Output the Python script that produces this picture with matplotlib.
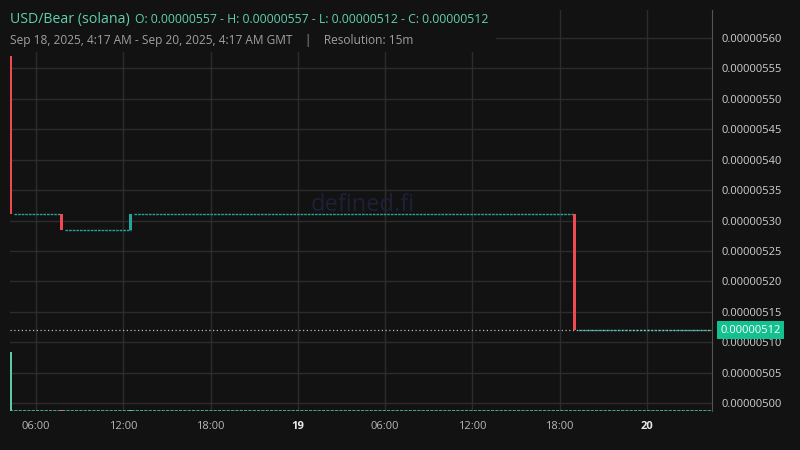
import pandas as pd
import matplotlib
matplotlib.use('Agg')
import matplotlib.pyplot as plt
import matplotlib.dates as mdates

plt.rcParams['font.family'] = ['Open Sans', 'DejaVu Sans']

# Bougies non plates (15m), le reste est plat au dernier prix
heures = ['2025-09-18 04:15', '2025-09-18 07:45', '2025-09-18 12:30', '2025-09-19 19:00']
ouvertures = [5.57e-6, 5.311e-6, 5.2845e-6, 5.311e-6]
clotures = [5.311e-6, 5.2845e-6, 5.311e-6, 5.12e-6]
volumes = [1850, 40, 45, 0]
couleurs_vol = ['#5ccaa2', '#f07070', '#5ccaa2', '#5ccaa2']
fin = '2025-09-20 04:15'
dernier_prix = 5.12e-6

yticks = [5.00e-6 + i * 0.05e-6 for i in range(13)]
xticks = ['2025-09-18 06:00', '2025-09-18 12:00', '2025-09-18 18:00', '2025-09-19 00:00',
          '2025-09-19 06:00', '2025-09-19 12:00', '2025-09-19 18:00', '2025-09-20 00:00']
xlabels = ['06:00', '12:00', '18:00', '19', '06:00', '12:00', '18:00', '20']

fond = '#121212'
vert = '#26a69a'
rouge = '#f04a50'

t = pd.to_datetime(heures)
t_fin = pd.Timestamp(fin)
quart = pd.Timedelta(minutes=15)

fig = plt.figure(figsize=(8, 4.5), dpi=100, facecolor=fond)
ax = fig.add_axes([0.0125, 0.0867, 0.8775, 0.8911])
ax.set_facecolor(fond)

xmin = mdates.date2num(pd.Timestamp('2025-09-18 04:13'))
xmax = mdates.date2num(pd.Timestamp('2025-09-20 04:28'))
ax.set_xlim(xmin, xmax)
ax.set_ylim(4.987e-6, 5.646e-6)

# grille
for v in yticks:
    ax.axhline(v, color='#2c2c2c', lw=1, zorder=0)
for d in xticks:
    ax.axvline(mdates.date2num(pd.Timestamp(d)), color='#2c2c2c', lw=1, zorder=0)

# segments plats (bougies sans échange)
for i in range(len(t)):
    debut = t[i] + quart
    stop = t[i + 1] if i + 1 < len(t) else t_fin + quart
    ax.hlines(clotures[i], mdates.date2num(debut), mdates.date2num(stop),
              color=vert, lw=1, linestyles=(0, (1.9, 0.7)), zorder=3)

# bougies
larg = 0.85 * quart / pd.Timedelta(days=1)
for i in range(len(t)):
    c = vert if clotures[i] >= ouvertures[i] else rouge
    x = mdates.date2num(t[i])
    bas = min(ouvertures[i], clotures[i])
    h = abs(clotures[i] - ouvertures[i])
    ax.bar(x, h, bottom=bas, width=larg, color=c, zorder=4)

# ligne du dernier prix
ax.axhline(dernier_prix, color='#bbbbbb', lw=0.9, ls=(0, (1, 2)), zorder=5)

# volumes
axv = ax.twinx()
axv.set_ylim(0, max(volumes) * 6.8)
axv.set_xlim(xmin, xmax)
axv.axis('off')
for i in range(len(t)):
    axv.bar(mdates.date2num(t[i]), volumes[i], width=larg, color=couleurs_vol[i], zorder=3)
axv.hlines(0, xmin, xmax, color='#4fbf9a', lw=1.2, linestyles=(0, (1.9, 0.7)), zorder=2)
axv.hlines(0, xmin, xmax, color='#cccccc', lw=0.8, linestyles=(0, (1, 2)), zorder=2)

# axes
ax.yaxis.tick_right()
ax.set_yticks(yticks)
ax.set_yticklabels(['%.8f' % v for v in yticks])
ax.tick_params(axis='y', length=0, pad=7, labelsize=8, labelcolor='#d0d0d0')
ax.set_xticks([mdates.date2num(pd.Timestamp(d)) for d in xticks])
ax.set_xticklabels(xlabels)
ax.tick_params(axis='x', length=0, pad=7, labelsize=8, labelcolor='#b8b8b8')
for lab in ax.get_xticklabels():
    if ':' not in lab.get_text():
        lab.set_fontweight('bold')
        lab.set_color('#e8e8e8')
for s in ['top', 'left', 'bottom']:
    ax.spines[s].set_visible(False)
ax.spines['right'].set_color('#555555')

# étiquette du dernier prix
ax.annotate('%.8f' % dernier_prix, xy=(1.0, dernier_prix), xycoords=('axes fraction', 'data'),
            xytext=(6, 0), textcoords='offset points', ha='left', va='center',
            fontsize=8, color='white', zorder=10, annotation_clip=False,
            bbox=dict(boxstyle='square,pad=0.3', fc='#14c08f', ec='none'))

# filigrane
fig.text(0.453, 0.545, 'defined.fi', fontsize=17, color='#1f1f38', ha='center', va='center')

# titre
fig.patches.append(plt.Rectangle((0.005, 0.885), 0.615, 0.11, transform=fig.transFigure,
                                 fc=fond, ec='none', zorder=5))
fig.text(0.0125, 0.957, 'USD/Bear (solana)', fontsize=10.2, color='#5fd0b0', va='center', zorder=6)
fig.text(0.169, 0.957, 'O: 0.00000557 - H: 0.00000557 - L: 0.00000512 - C: 0.00000512',
         fontsize=8.8, color='#5fd0b0', va='center', zorder=6)
fig.text(0.0125, 0.91, 'Sep 18, 2025, 4:17 AM - Sep 20, 2025, 4:17 AM GMT    |    Resolution: 15m',
         fontsize=8.6, color='#a0a0a0', va='center', zorder=6)

fig.savefig('out.png', dpi=100, facecolor=fond)
